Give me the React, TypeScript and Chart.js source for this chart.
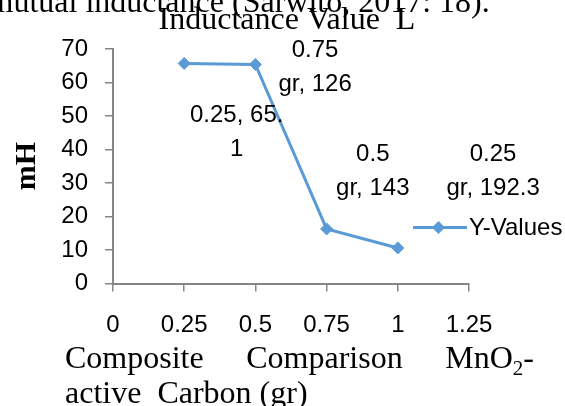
import React, { useEffect, useRef } from 'react';
import { Chart, registerables } from 'chart.js';

Chart.register(...registerables);

// ---- data ----
const xValues = [0.25, 0.5, 0.75, 1];
const yValues = [65.7, 65.4, 16.3, 10.6];
const pointLabels = [
  ['0.25, 65.', '1'],
  ['0.75', 'gr, 126'],
  ['0.5', 'gr, 143'],
  ['0.25', 'gr, 192.3'],
];
const xTickLabels = ['0', '0.25', '0.5', '0.75', '1', '1.25'];
const yTickLabels = ['0', '10', '20', '30', '40', '50', '60', '70'];
const seriesName = 'Y-Values';
const chartTitle = 'Inductance Value  L';
const yAxisTitle = 'mH';
const xTitleLine1 = ['Composite', 'Comparison', 'MnO|2|-'];
const xTitleLine2 = 'active  Carbon (gr)';
const contextText = 'mutual inductance (Sarwito, 2017: 18).';
const xMin = 0;
const xMax = 1.25;
const xStep = 0.25;
const yMin = 0;
const yMax = 70;
const yStep = 10;

// ---- styles ----
const SANS = "'Liberation Sans', Arial, sans-serif";
const SERIF = "'Liberation Serif', 'Times New Roman', serif";
const BLUE = '#5B9BD5';
const AXIS = '#868686';
const labelOffsets = [
  [52.5, 51.6],
  [59.7, -13.7],
  [46.2, -74.9],
  [95.3, -93.5],
];
const labelLineHeight = 34;

const overlay = {
  id: 'overlay',
  beforeDraw(chart: any) {
    const c = chart.ctx;
    c.save();
    c.fillStyle = '#fff';
    c.fillRect(0, 0, chart.width, chart.height);
    c.fillStyle = '#000';
    c.font = `32px ${SERIF}`;
    c.textAlign = 'left';
    c.textBaseline = 'alphabetic';
    c.fillText(contextText, -11.5, 12);
    c.restore();
  },
  afterDatasetsDraw(chart: any) {
    const c = chart.ctx;
    const meta = chart.getDatasetMeta(0);
    c.save();
    c.fillStyle = '#000';
    c.font = `24px ${SANS}`;
    c.textAlign = 'center';
    c.textBaseline = 'middle';
    meta.data.forEach((pt: any, i: number) => {
      const lines = pointLabels[i];
      const [dx, dy] = labelOffsets[i];
      lines.forEach((ln, j) => {
        c.fillText(ln, pt.x + dx, pt.y + dy + j * labelLineHeight);
      });
    });
    c.restore();
  },
  afterDraw(chart: any) {
    const c = chart.ctx;
    c.save();
    c.fillStyle = '#000';
    // title
    c.font = `32px ${SERIF}`;
    c.textAlign = 'center';
    c.textBaseline = 'alphabetic';
    c.fillText(chartTitle, 287, 29);

    // y axis title
    c.save();
    c.translate(35, 166);
    c.rotate(-Math.PI / 2);
    c.font = `bold 30px ${SERIF}`;
    c.textAlign = 'center';
    c.textBaseline = 'alphabetic';
    c.fillText(yAxisTitle, 0, 0);
    c.restore();

    // x axis title, line 1 justified
    c.textAlign = 'left';
    const big = `32px ${SERIF}`;
    const small = `21px ${SERIF}`;
    const measureWord = (w: string) => {
      const parts = w.split('|');
      let tot = 0;
      parts.forEach((p, k) => {
        c.font = k === 1 ? small : big;
        tot += c.measureText(p).width;
      });
      return tot;
    };
    const drawWord = (w: string, x: number, y: number) => {
      const parts = w.split('|');
      let cx = x;
      parts.forEach((p, k) => {
        c.font = k === 1 ? small : big;
        c.fillText(p, cx, k === 1 ? y + 7 : y);
        cx += c.measureText(p).width;
      });
    };
    const left = 65;
    const right = 534;
    const widths = xTitleLine1.map(measureWord);
    const totalW = widths.reduce((a, b) => a + b, 0);
    const gap = (right - left - totalW) / (xTitleLine1.length - 1);
    let x = left;
    xTitleLine1.forEach((w, i) => {
      drawWord(w, x, 368);
      x += widths[i] + gap;
    });
    c.font = big;
    c.fillText(xTitleLine2, left, 403);

    // legend
    const ly = 227.5;
    c.strokeStyle = BLUE;
    c.lineWidth = 3;
    c.beginPath();
    c.moveTo(413, ly);
    c.lineTo(467, ly);
    c.stroke();
    c.fillStyle = BLUE;
    const r = 6.5;
    const lx = 438.5;
    c.beginPath();
    c.moveTo(lx, ly - r);
    c.lineTo(lx + r, ly);
    c.lineTo(lx, ly + r);
    c.lineTo(lx - r, ly);
    c.closePath();
    c.fill();
    c.fillStyle = '#000';
    c.font = `24px ${SANS}`;
    c.textBaseline = 'middle';
    c.textAlign = 'left';
    c.fillText(seriesName, 469, ly + 0.5);
    c.restore();
  },
};

export default function App() {
  const ref = useRef<HTMLCanvasElement>(null);
  useEffect(() => {
    const chart = new Chart(ref.current as HTMLCanvasElement, {
      type: 'line',
      data: {
        datasets: [
          {
            label: seriesName,
            data: xValues.map((xv, i) => ({ x: xv, y: yValues[i] })),
            borderColor: BLUE,
            backgroundColor: BLUE,
            borderWidth: 3,
            pointStyle: 'rectRot',
            pointRadius: 6,
            pointBorderWidth: 1,
            pointBackgroundColor: BLUE,
            pointBorderColor: BLUE,
            tension: 0,
          },
        ],
      },
      options: {
        animation: false,
        responsive: false,
        events: [],
        layout: { padding: { left: 0, top: 49, right: 96, bottom: 0 } },
        plugins: {
          legend: { display: false },
          title: { display: false },
          tooltip: { enabled: false },
        },
        scales: {
          x: {
            type: 'linear',
            min: xMin,
            max: xMax,
            afterFit: (s: any) => {
              s.height = 122.5;
            },
            ticks: {
              stepSize: xStep,
              color: '#000',
              padding: 19,
              maxRotation: 0,
              autoSkip: false,
              font: { family: SANS, size: 24 },
              callback: (_v: any, i: number) => xTickLabels[i],
            },
            grid: {
              display: true,
              drawOnChartArea: false,
              drawTicks: true,
              tickLength: 8,
              color: AXIS,
              lineWidth: 1.5,
            },
            border: { display: true, color: AXIS, width: 2 },
          },
          y: {
            type: 'linear',
            min: yMin,
            max: yMax,
            afterFit: (s: any) => {
              s.width = 113;
            },
            ticks: {
              stepSize: yStep,
              color: '#000',
              padding: 17,
              font: { family: SANS, size: 24 },
              callback: (_v: any, i: number) => yTickLabels[i],
            },
            grid: {
              display: true,
              drawOnChartArea: false,
              drawTicks: true,
              tickLength: 8,
              color: AXIS,
              lineWidth: 1.5,
            },
            border: { display: true, color: AXIS, width: 2 },
          },
        },
      },
      plugins: [overlay],
    } as any);
    return () => chart.destroy();
  }, []);
  return (
    <div style={{ position: 'absolute', left: 0, top: 0, width: 565, height: 406, background: '#fff', overflow: 'hidden' }}>
      <canvas ref={ref} width={565} height={406} style={{ display: 'block', width: 565, height: 406 }} />
    </div>
  );
}
